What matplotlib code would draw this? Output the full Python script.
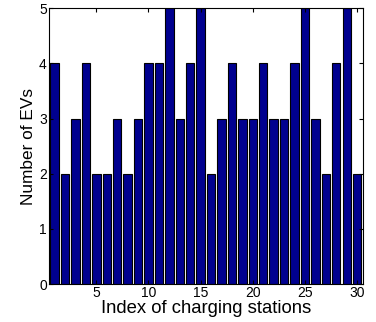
import matplotlib
matplotlib.use("Agg")
import matplotlib.pyplot as plt

stations = list(range(1, 31))
num_evs = [4, 2, 3, 4, 2, 2, 3, 2, 3, 4, 4, 5, 3, 4, 5, 2, 3, 4, 3, 3, 4, 3, 3, 4, 5, 3, 2, 4, 5, 2]
xticks = [5, 10, 15, 20, 25, 30]
yticks = [0, 1, 2, 3, 4, 5]

plt.rcParams['font.family'] = ['Liberation Sans', 'DejaVu Sans']

fig = plt.figure(figsize=(3.76, 3.22), dpi=100)
ax = fig.add_axes([0.130, 0.118, 0.835, 0.856])
ax.bar(stations, num_evs, width=0.8, color='#00008F', edgecolor='black', linewidth=0.8)
ax.set_xlim(0.45, 30.55)
ax.set_ylim(0, 5)
ax.set_xticks(xticks)
ax.set_yticks(yticks)
ax.tick_params(direction='in', top=True, right=True, labelsize=10, length=3, pad=1.5)
ax.set_xlabel('Index of charging stations', fontsize=13.3, labelpad=0)
ax.set_ylabel('Number of EVs', fontsize=12.4, labelpad=2)
for s in ax.spines.values():
    s.set_linewidth(0.8)
fig.savefig('out.png', dpi=100)
